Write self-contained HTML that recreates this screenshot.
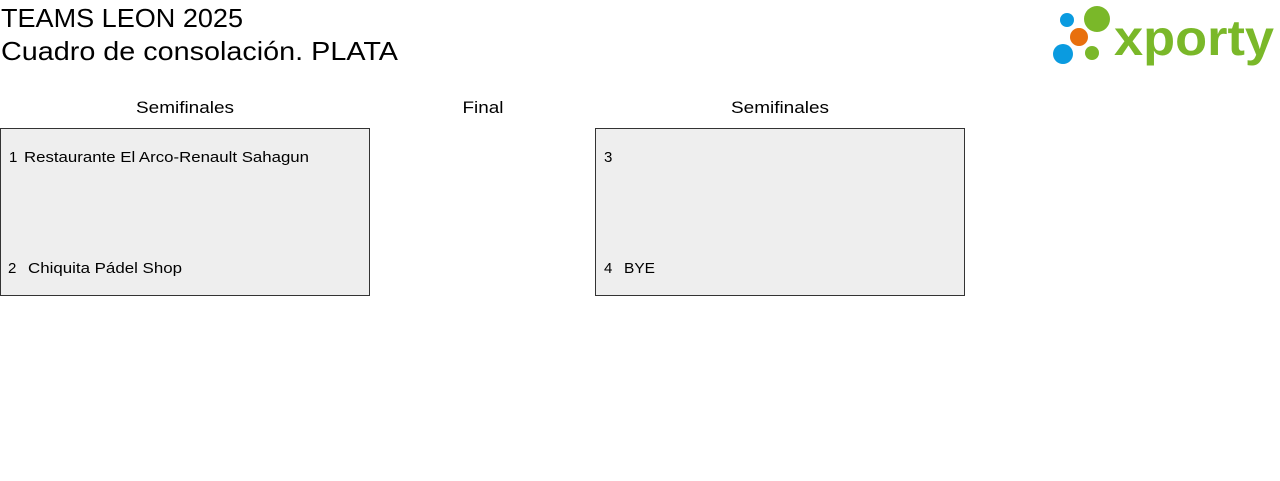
<!DOCTYPE html>
<html><head><meta charset="utf-8"><style>
html,body{margin:0;padding:0;background:#fff;width:1280px;height:481px;overflow:hidden}
svg{display:block}
text{font-family:"Liberation Sans",sans-serif;fill:#000}
</style></head><body>
<svg width="1280" height="481" viewBox="0 0 1280 481" xmlns="http://www.w3.org/2000/svg">
<text x="1" y="27" font-size="26" textLength="242" lengthAdjust="spacingAndGlyphs">TEAMS LEON 2025</text>
<text x="1" y="60" font-size="26" textLength="397" lengthAdjust="spacingAndGlyphs">Cuadro de consolación. PLATA</text>

<circle cx="1067" cy="20" r="7" fill="#0a9be0"/>
<circle cx="1097" cy="19" r="13" fill="#7ab829"/>
<circle cx="1079" cy="37" r="9" fill="#e8700e"/>
<circle cx="1063" cy="54" r="10" fill="#0a9be0"/>
<circle cx="1092" cy="53" r="7" fill="#7ab829"/>
<text x="1114" y="55" font-size="50" font-weight="bold" style="fill:#7ab829" textLength="160" lengthAdjust="spacingAndGlyphs">xporty</text>

<text x="185" y="113" font-size="17" text-anchor="middle" textLength="98" lengthAdjust="spacingAndGlyphs">Semifinales</text>
<text x="483" y="113" font-size="17" text-anchor="middle" textLength="41" lengthAdjust="spacingAndGlyphs">Final</text>
<text x="780" y="113" font-size="17" text-anchor="middle" textLength="98" lengthAdjust="spacingAndGlyphs">Semifinales</text>

<rect x="0.5" y="128.5" width="369" height="167" fill="#eeeeee" stroke="#333" stroke-width="1"/>
<text x="9" y="162" font-size="15">1</text>
<text x="24" y="162" font-size="15" textLength="285" lengthAdjust="spacingAndGlyphs">Restaurante El Arco-Renault Sahagun</text>
<text x="8" y="273" font-size="15">2</text>
<text x="28" y="273" font-size="15" textLength="154" lengthAdjust="spacingAndGlyphs">Chiquita Pádel Shop</text>

<rect x="595.5" y="128.5" width="369" height="167" fill="#eeeeee" stroke="#333" stroke-width="1"/>
<text x="604" y="162" font-size="15">3</text>
<text x="604" y="273" font-size="15">4</text>
<text x="624" y="273" font-size="15" textLength="31" lengthAdjust="spacingAndGlyphs">BYE</text>
</svg>
</body></html>
